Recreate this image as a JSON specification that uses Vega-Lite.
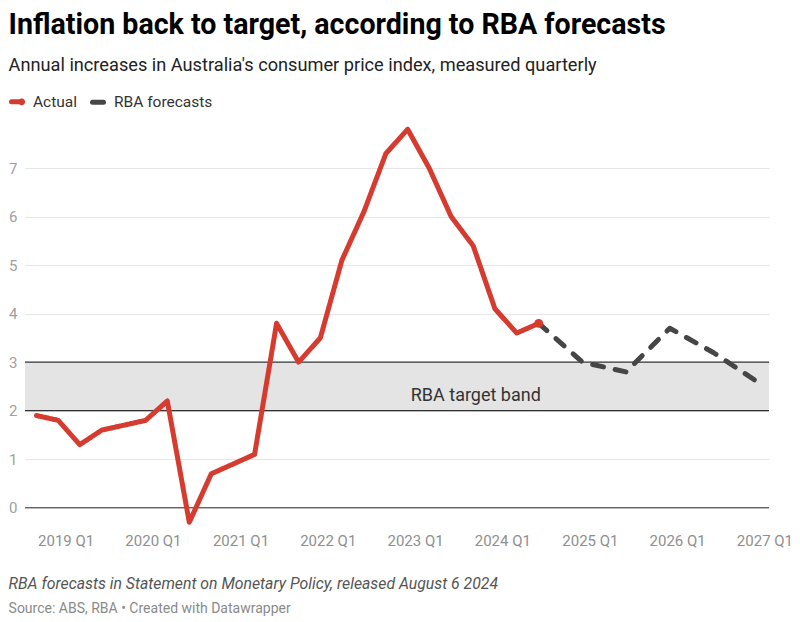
{
  "$schema": "https://vega.github.io/schema/vega-lite/v6.json",
  "padding": {"left": 8, "right": 8, "top": 10, "bottom": 4},
  "background": "white",
  "config": {
    "font": "Roboto",
    "view": {"stroke": null},
    "concat": {"spacing": 0}
  },
  "title": {
    "text": "Inflation back to target, according to RBA forecasts",
    "subtitle": "Annual increases in Australia's consumer price index, measured quarterly",
    "anchor": "start",
    "frame": "bounds",
    "font": "Roboto",
    "fontSize": 28.6,
    "fontWeight": "bold",
    "color": "#000000",
    "subtitleFont": "Roboto",
    "subtitleFontSize": 18.2,
    "subtitleColor": "#222222",
    "subtitlePadding": 18,
    "offset": 18.5
  },
  "vconcat": [
    {
      "width": 744,
      "height": 410,
      "title": {
        "text": "RBA forecasts in Statement on Monetary Policy, released August 6 2024",
        "subtitle": "Source: ABS, RBA • Created with Datawrapper",
        "orient": "bottom",
        "anchor": "start",
        "frame": "bounds",
        "font": "Roboto",
        "fontSize": 15.8,
        "fontStyle": "italic",
        "fontWeight": "normal",
        "color": "#555555",
        "subtitleFont": "Roboto",
        "subtitleFontSize": 14,
        "subtitleColor": "#8a8a8a",
        "subtitlePadding": 10,
        "offset": 28.5
      },
      "layer": [
        {
          "data": {"values": [{"lo": 2, "hi": 3}]},
          "mark": {"type": "rect", "color": "#e4e4e4"},
          "encoding": {
            "y": {"field": "lo", "type": "quantitative"},
            "y2": {"field": "hi"}
          }
        },
        {
          "data": {"values": [{"v": 0}, {"v": 2}, {"v": 3}]},
          "mark": {"type": "rule", "color": "#333333", "strokeWidth": 1.2},
          "encoding": {
            "y": {"field": "v", "type": "quantitative"}
          }
        },
        {
          "data": {"values": [{"date": "2023-09-12", "y": 2.3, "label": "RBA target band"}]},
          "mark": {"type": "text", "fontSize": 18, "color": "#333333", "align": "center", "baseline": "middle"},
          "encoding": {
            "x": {"field": "date", "type": "temporal"},
            "y": {"field": "y", "type": "quantitative"},
            "text": {"field": "label"}
          }
        },
        {
          "data": {
            "values": [
              {"series": "Actual", "quarter": "2018 Q3", "date": "2018-09-01", "value": 1.9},
              {"series": "Actual", "quarter": "2018 Q4", "date": "2018-12-01", "value": 1.8},
              {"series": "Actual", "quarter": "2019 Q1", "date": "2019-03-01", "value": 1.3},
              {"series": "Actual", "quarter": "2019 Q2", "date": "2019-06-01", "value": 1.6},
              {"series": "Actual", "quarter": "2019 Q3", "date": "2019-09-01", "value": 1.7},
              {"series": "Actual", "quarter": "2019 Q4", "date": "2019-12-01", "value": 1.8},
              {"series": "Actual", "quarter": "2020 Q1", "date": "2020-03-01", "value": 2.2},
              {"series": "Actual", "quarter": "2020 Q2", "date": "2020-06-01", "value": -0.3},
              {"series": "Actual", "quarter": "2020 Q3", "date": "2020-09-01", "value": 0.7},
              {"series": "Actual", "quarter": "2020 Q4", "date": "2020-12-01", "value": 0.9},
              {"series": "Actual", "quarter": "2021 Q1", "date": "2021-03-01", "value": 1.1},
              {"series": "Actual", "quarter": "2021 Q2", "date": "2021-06-01", "value": 3.8},
              {"series": "Actual", "quarter": "2021 Q3", "date": "2021-09-01", "value": 3.0},
              {"series": "Actual", "quarter": "2021 Q4", "date": "2021-12-01", "value": 3.5},
              {"series": "Actual", "quarter": "2022 Q1", "date": "2022-03-01", "value": 5.1},
              {"series": "Actual", "quarter": "2022 Q2", "date": "2022-06-01", "value": 6.1},
              {"series": "Actual", "quarter": "2022 Q3", "date": "2022-09-01", "value": 7.3},
              {"series": "Actual", "quarter": "2022 Q4", "date": "2022-12-01", "value": 7.8},
              {"series": "Actual", "quarter": "2023 Q1", "date": "2023-03-01", "value": 7.0},
              {"series": "Actual", "quarter": "2023 Q2", "date": "2023-06-01", "value": 6.0},
              {"series": "Actual", "quarter": "2023 Q3", "date": "2023-09-01", "value": 5.4},
              {"series": "Actual", "quarter": "2023 Q4", "date": "2023-12-01", "value": 4.1},
              {"series": "Actual", "quarter": "2024 Q1", "date": "2024-03-01", "value": 3.6},
              {"series": "Actual", "quarter": "2024 Q2", "date": "2024-06-01", "value": 3.8},
              {"series": "RBA forecasts", "quarter": "2024 Q2", "date": "2024-06-01", "value": 3.8},
              {"series": "RBA forecasts", "quarter": "2024 Q4", "date": "2024-12-01", "value": 3.0},
              {"series": "RBA forecasts", "quarter": "2025 Q2", "date": "2025-06-01", "value": 2.8},
              {"series": "RBA forecasts", "quarter": "2025 Q4", "date": "2025-12-01", "value": 3.7},
              {"series": "RBA forecasts", "quarter": "2026 Q2", "date": "2026-06-01", "value": 3.2},
              {"series": "RBA forecasts", "quarter": "2026 Q4", "date": "2026-12-01", "value": 2.6}
            ]
          },
          "layer": [
            {
              "mark": {"type": "line", "strokeWidth": 5, "strokeCap": "round", "strokeJoin": "round"},
              "encoding": {
                "x": {
                  "field": "date",
                  "type": "temporal",
                  "scale": {
                    "type": "utc",
                    "domain": [
                      {"year": 2018, "month": 7, "date": 15, "utc": true},
                      {"year": 2027, "month": 1, "date": 20, "utc": true}
                    ],
                    "nice": false
                  },
                  "axis": {
                    "title": null,
                    "values": [
                      {"year": 2019, "month": 1, "date": 1, "utc": true},
                      {"year": 2020, "month": 1, "date": 1, "utc": true},
                      {"year": 2021, "month": 1, "date": 1, "utc": true},
                      {"year": 2022, "month": 1, "date": 1, "utc": true},
                      {"year": 2023, "month": 1, "date": 1, "utc": true},
                      {"year": 2024, "month": 1, "date": 1, "utc": true},
                      {"year": 2025, "month": 1, "date": 1, "utc": true},
                      {"year": 2026, "month": 1, "date": 1, "utc": true},
                      {"year": 2027, "month": 1, "date": 1, "utc": true}
                    ],
                    "labelExpr": "utcFormat(datum.value, '%Y') + ' Q1'",
                    "grid": false,
                    "ticks": false,
                    "domain": false,
                    "labelFont": "Roboto",
                    "labelFontSize": 15,
                    "labelColor": "#8f8f8f",
                    "labelPadding": 1,
                    "labelFlush": false,
                    "labelOverlap": false
                  }
                },
                "y": {
                  "field": "value",
                  "type": "quantitative",
                  "scale": {"domain": [-0.5, 7.95], "nice": false, "zero": false},
                  "axis": {
                    "title": null,
                    "values": [0, 1, 2, 3, 4, 5, 6, 7],
                    "grid": true,
                    "gridColor": "#e6e6e6",
                    "gridWidth": 1,
                    "ticks": false,
                    "domain": false,
                    "labelFont": "Roboto",
                    "labelFontSize": 15,
                    "labelColor": "#a0a0a0",
                    "labelPadding": 8
                  }
                },
                "color": {
                  "field": "series",
                  "type": "nominal",
                  "scale": {"domain": ["Actual", "RBA forecasts"], "range": ["#d63b2f", "#464646"]},
                  "legend": {
                    "title": null,
                    "orient": "none",
                    "legendX": -16,
                    "legendY": -29,
                    "direction": "horizontal",
                    "labelFont": "Roboto",
                    "labelFontSize": 15.5,
                    "labelColor": "#333333",
                    "labelOffset": 7,
                    "columnPadding": 4,
                    "symbolSize": 144,
                    "symbolStrokeWidth": 5,
                    "symbolType": "stroke",
                    "encode": {
                      "symbols": {
                        "update": {
                          "shape": {"signal": "datum.value === 'Actual' ? 'M-1,0L0.5,0M0.85,0A0.15,0.15 0 1 1 0.55,0A0.15,0.15 0 1 1 0.85,0' : 'M-1,0L1,0'"},
                          "strokeCap": {"value": "round"},
                          "strokeDash": {"value": [1, 0]}
                        }
                      }
                    }
                  }
                },
                "strokeDash": {
                  "field": "series",
                  "type": "nominal",
                  "scale": {"domain": ["Actual", "RBA forecasts"], "range": [[1, 0], [11, 12]]},
                  "legend": null
                }
              }
            },
            {
              "transform": [{"filter": "datum.series === 'Actual' && datum.quarter === '2024 Q2'"}],
              "mark": {"type": "point", "filled": true, "opacity": 1, "size": 80, "color": "#d63b2f"},
              "encoding": {
                "x": {"field": "date", "type": "temporal"},
                "y": {"field": "value", "type": "quantitative"}
              }
            }
          ]
        }
      ]
    }
  ]
}
